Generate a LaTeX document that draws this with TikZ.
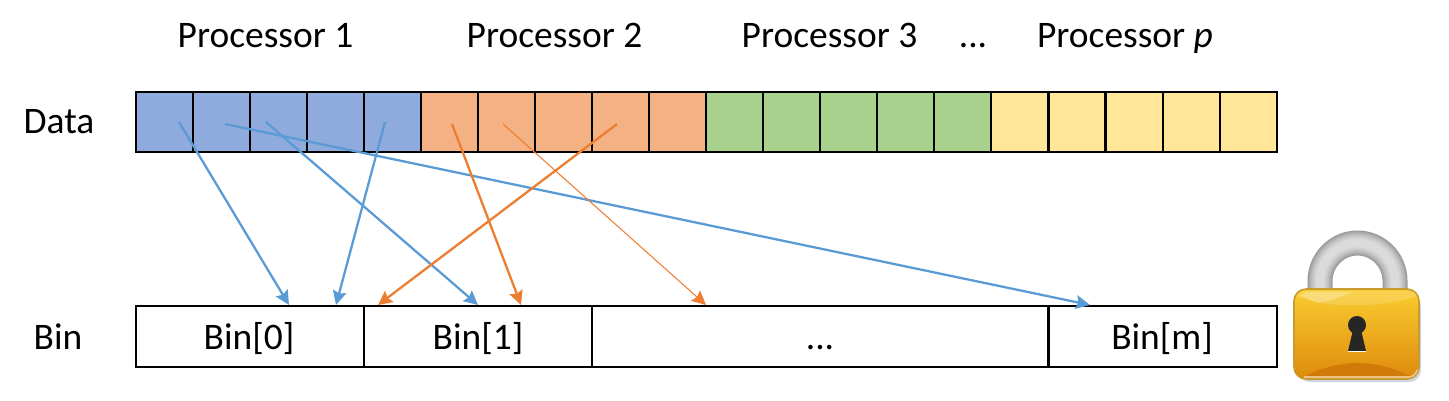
\documentclass[tikz,border=0pt]{standalone}
\usepackage{fontspec}
\setmainfont{Carlito}
\usetikzlibrary{arrows.meta}
\definecolor{CellBlue}{HTML}{8FAADC}
\definecolor{CellOrange}{HTML}{F4B183}
\definecolor{CellGreen}{HTML}{A9D18E}
\definecolor{CellYellow}{HTML}{FFE699}
\definecolor{FlowBlue}{HTML}{5B9BD5}
\definecolor{FlowOrange}{HTML}{ED7D31}
\newcommand{\LockShackle}{(1320,292) -- (1320,281) .. controls (1320,260) and (1337,243) .. (1357.5,243) .. controls (1378,243) and (1395,260) .. (1395,281) -- (1395,292)}

\begin{document}
\begin{tikzpicture}[x=0.01cm, y=-0.01cm, font=\fontsize{10.65pt}{12pt}\selectfont,
  Cell/.style={draw, line width=0.6pt, minimum width=0.5705cm, minimum height=0.6cm, inner sep=0, outer sep=0},
  BinBox/.style={draw, line width=0.6pt, minimum height=0.61cm, inner sep=0, outer sep=0},
  Label/.style={inner sep=0, text height=7pt, text depth=2pt},
  Flow/.style={-{Stealth[length=4pt, width=3.9pt, inset=0.6pt]}, line width=0.65pt}]

\useasboundingbox (0,0) rectangle (1449,400);

\foreach \pos/\name/\tint in {0/a/CellBlue, 5/b/CellOrange, 10/c/CellGreen, 15/d/CellYellow} {
  \foreach \k in {0,1,2,3,4} {
    \node [Cell, fill=\tint] (\name\k) at (164.2 + 57.05 * \pos + 57.05 * \k, 122) {};
  }
}

\node [BinBox, minimum width=2.28cm] (bin0) at (250, 336.5) {};
\node [BinBox, minimum width=2.28cm] (bin1) at (478, 336.5) {};
\node [BinBox, minimum width=4.57cm] (bin2) at (820.2, 336.5) {};
\node [BinBox, minimum width=2.28cm] (bin3) at (1162.6, 336.5) {};

\foreach \pos/\name/\txt in {265.5/pros1/Processor 1, 554.5/pros2/Processor 2, 829.5/pros3/Processor 3, 1125/prosp/Processor \textit{p}} {
  \node [Label] (\name) at (\pos, 39) {\txt};
}
\node [Label] (gap) at (973, 39) {...};

\node [Label] (data) at (59, 125) {Data};
\node [Label] (bin) at (58, 341) {Bin};
\node [Label] (txt0) at (249, 341) {Bin[0]};
\node [Label] (txt1) at (478, 341) {Bin[1]};
\node [Label] (txt2) at (820, 341) {...};
\node [Label] (txt3) at (1162, 341) {Bin[m]};

% arrow ends
\foreach \name/\x/\y in {s1/179/122, s2/225/124, s3/266/122, s4/385/122, s5/452/124, s6/617/124, s7/503/124,
  e1/289/305, e2/1090/305, e3/478/305, e4/336/305, e5/521/305, e6/378/305, e7/706/305} {
  \coordinate (\name) at (\x, \y);
}

\draw [Flow, FlowBlue] (s1) -- (e1);
\draw [Flow, FlowBlue] (s2) -- (e2);
\draw [Flow, FlowBlue] (s3) -- (e3);
\draw [Flow, FlowBlue] (s4) -- (e4);
\draw [Flow, FlowOrange] (s5) -- (e5);
\draw [Flow, FlowOrange] (s6) -- (e6);
\draw [Flow, FlowOrange, line width=0.3pt] (s7) -- (e7);

% padlock
\foreach \w/\c in {0.25cm/black!40, 0.235cm/black!37, 0.22cm/black!34, 0.205cm/black!31, 0.19cm/black!28, 0.175cm/black!26, 0.16cm/black!24, 0.145cm/black!22, 0.13cm/black!20, 0.115cm/black!18, 0.1cm/black!17, 0.085cm/black!15, 0.07cm/black!14} {
  \draw [line width=\w, color=\c] \LockShackle;
}
\fill [rounded corners=0.12cm, fill={rgb,255:red,205;green,213;blue,224}] (1298,294) rectangle (1421,382);
\draw [rounded corners=0.12cm, draw={rgb,255:red,200;green,155;blue,50}, line width=0.45pt, top color={rgb,255:red,250;green,205;blue,48}, bottom color={rgb,255:red,222;green,138;blue,12}] (1294,289) rectangle (1419,379);
\fill [white, opacity=0.16] (1297,296) .. controls (1300,291) and (1303,291) .. (1308,291) -- (1410,291) .. controls (1414,291) and (1416,293) .. (1417,296) .. controls (1395,304) and (1365,306) .. (1340,305) .. controls (1322,304) and (1308,300) .. (1297,296) -- cycle;
\fill [white, opacity=0.25] (1300,296) -- (1306,292) -- (1352,292) .. controls (1340,298) and (1325,302) .. (1318,303) .. controls (1310,300) and (1305,298) .. (1300,296) -- cycle;
\fill [fill={rgb,255:red,208;green,122;blue,10}] (1305,376) .. controls (1325,366) and (1345,363) .. (1357,363) .. controls (1375,363) and (1395,368) .. (1410,376) -- cycle;
\draw [white, opacity=0.5, line width=0.45pt] (1304,377) -- (1408,377) .. controls (1413,377) and (1416,374) .. (1417,370);
\fill [fill=black!85] (1357,325) circle [radius=0.09cm];
\fill [fill=black!85] (1353,330) -- (1361,330) -- (1366,351) -- (1348,351) -- cycle;
\draw [white, line width=0.25pt] (1348,351.5) -- (1366,351.5);
\end{tikzpicture}
\end{document}
